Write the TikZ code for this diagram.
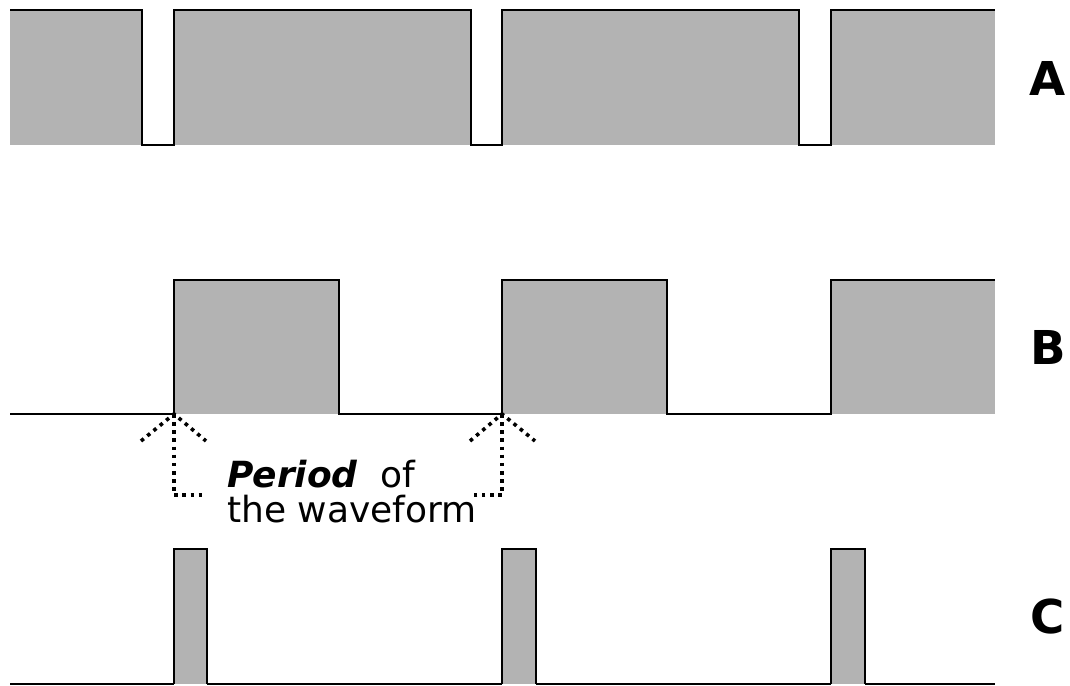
\documentclass[tikz,border=0pt]{standalone}
\usepackage{fontspec}
\setmainfont{DejaVu Sans}
\definecolor{pulsegray}{HTML}{B3B3B3}
\begin{document}
\begin{tikzpicture}[x=0.75pt,y=-0.75pt,
  pulse/.style={fill=pulsegray,draw=none},
  edge/.style={draw=black,line width=1pt,line join=miter},
  low/.style={draw=black,line width=1.8pt},
  periodmark/.style={draw=black,line width=2.7pt,dash pattern=on 2.7pt off 3.4pt},
  tag/.style={font=\bfseries\fontsize{35}{35}\selectfont,inner sep=0pt},
  note/.style={font=\fontsize{27}{26.25}\selectfont,align=left,inner sep=0pt,anchor=base west}]
\useasboundingbox (0,0) rectangle (1070,685);

% ---- waveform A: long high, short low ----
\foreach \a/\b in {10/142,174/471,502/799,831/995}
  \fill[pulse] (\a,10) rectangle (\b,145);
\draw[edge] (10,10) -- (142,10) -- (142,145)
  (174,145) -- (174,10) -- (471,10) -- (471,145)
  (502,145) -- (502,10) -- (799,10) -- (799,145)
  (831,145) -- (831,10) -- (995,10);
\draw[low] (141,145) -- (175,145) (470,145) -- (503,145) (798,145) -- (832,145);
\node[tag] (labA) at (1048,78) {A};

% ---- waveform B: half duty ----
\foreach \a/\b in {174/339,502/667,831/995}
  \fill[pulse] (\a,280) rectangle (\b,414);
\draw[edge] (174,414) -- (174,280) -- (339,280) -- (339,414)
  (502,414) -- (502,280) -- (667,280) -- (667,414)
  (831,414) -- (831,280) -- (995,280);
\draw[low] (10,414) -- (175,414) (338,414) -- (503,414) (666,414) -- (832,414);
\node[tag] (labB) at (1048,347) {B};

% ---- waveform C: narrow pulses ----
\foreach \a/\b in {174/207,502/536,831/865}
  \fill[pulse] (\a,549) rectangle (\b,684);
\draw[edge] (174,684) -- (174,549) -- (207,549) -- (207,684)
  (502,684) -- (502,549) -- (536,549) -- (536,684)
  (831,684) -- (831,549) -- (865,549) -- (865,684);
\draw[edge,line width=1.2pt] (10,684) -- (174,684) (207,684) -- (502,684)
  (536,684) -- (831,684) (865,684) -- (995,684);
\node[tag] (labC) at (1048,617) {C};

% ---- period markers ----
\coordinate (p1) at (174,414);
\coordinate (p2) at (502,414);
\coordinate (p1l) at (141,441);
\coordinate (p1r) at (206,441);
\coordinate (p2l) at (470,441);
\coordinate (p2r) at (535,441);
\coordinate (p1c) at (174,495);
\coordinate (p1e) at (206,495);
\coordinate (p2c) at (502,495);
\coordinate (p2e) at (470,495);
\draw[periodmark] (p1l) -- (p1) -- (p1r);
\draw[periodmark] (p1) -- (p1c) -- (p1e);
\draw[periodmark] (p2l) -- (p2) -- (p2r);
\draw[periodmark] (p2) -- (p2c) -- (p2e);

\node[note] (period) at (227,522)
  {\textbf{\textit{Period}}\ \ of\\the waveform};
\end{tikzpicture}
\end{document}
